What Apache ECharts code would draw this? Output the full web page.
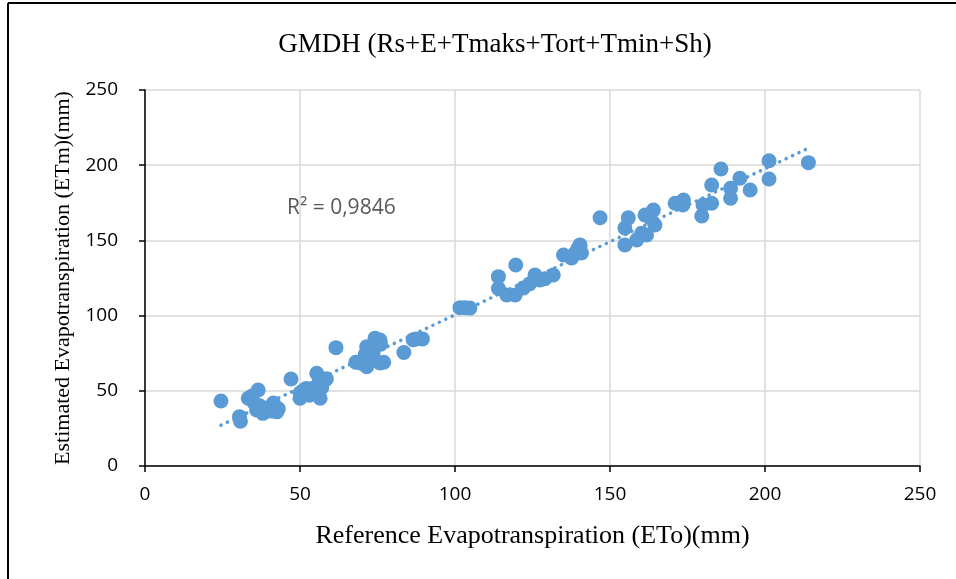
<!DOCTYPE html>
<html>
<head>
<meta charset="utf-8">
<title>GMDH</title>
<script src="https://cdn.jsdelivr.net/npm/echarts@6/dist/echarts.min.js"></script>
<style>
  html, body { margin: 0; padding: 0; background: #fff; }
  #chart { width: 956px; height: 579px; }
</style>
</head>
<body>
<div id="chart"></div>
<script>
// ETo (mm) reference values
var etoValues = [
  24.5, 30.5, 30.8, 33.3, 34.5, 36.5, 35, 36, 37, 38, 38.5, 39.7, 40.5, 41.4, 42.5, 43,
  47.1, 50, 50, 51, 52, 53, 54.3, 55.4, 56, 56.5, 57, 58, 58.5,
  61.6, 68, 69.4, 71.5, 71, 71.5, 72, 73.6, 74.2, 75.8, 75.8, 77, 76,
  83.5, 86.5, 87.5, 89.5,
  101.6, 103.2, 104.8, 114, 114, 116.7, 119.4, 119.6, 122, 124, 125.8, 127.4, 129, 131.7,
  135, 137.6, 138.5, 140.3, 140.8, 139.5, 140.3,
  146.8, 154.8, 154.8, 155.9, 158.6, 160.2, 161.3, 164, 164.5, 161.8, 163,
  171, 173.7, 173.5, 179.6, 180, 182.8, 182.8, 185.8, 188.9, 188.9, 191.9, 195.2,
  201.3, 201.3, 214
];
// ETm (mm) estimated by GMDH
var etmValues = [
  43.2, 32.8, 29.8, 45, 46.5, 50.5, 42.6, 37.2, 40, 35, 38, 38.5, 36.5, 41.9, 36, 38,
  57.8, 48.5, 45, 50, 51.6, 47, 49, 61.7, 55, 45, 52, 57, 58,
  78.7, 69, 68.5, 66, 74, 79.3, 72, 75, 85, 68.5, 83.8, 69, 81,
  75.5, 84, 84.5, 84.5,
  105.3, 105.3, 105, 125.9, 118, 113.7, 113.7, 133.6, 118.3, 121, 127, 123.7, 124.5, 127,
  140.3, 138.3, 141, 145.8, 141.6, 144, 147,
  165.1, 147, 158.2, 165, 150.3, 154.7, 166.9, 170.2, 160.2, 153.6, 165,
  174.7, 176.9, 173.5, 166.2, 173.5, 174.7, 186.8, 197.5, 184.6, 178, 191.3, 183.5,
  203, 190.8, 201.7
];
var r2Text = 'R² = 0,9846';

var points = [];
for (var i = 0; i < etoValues.length; i++) {
  points.push([etoValues[i], etmValues[i]]);
}

// linear trend line (least squares) over the data range
function trendLine(xs, ys) {
  var n = xs.length, sx = 0, sy = 0, sxx = 0, sxy = 0;
  for (var i = 0; i < n; i++) {
    sx += xs[i]; sy += ys[i]; sxx += xs[i] * xs[i]; sxy += xs[i] * ys[i];
  }
  var b = (n * sxy - sx * sy) / (n * sxx - sx * sx);
  var a = (sy - b * sx) / n;
  var x0 = Math.min.apply(null, xs), x1 = Math.max.apply(null, xs);
  return [[x0, a + b * x0], [x1, a + b * x1]];
}

var chart = echarts.init(document.getElementById('chart'));

var option = {
  backgroundColor: '#fff',
  animation: false,
  title: {
    text: 'GMDH (Rs+E+Tmaks+Tort+Tmin+Sh)',
    left: 490,
    textAlign: 'center',
    top: 26,
    textStyle: { fontFamily: 'Liberation Serif', fontWeight: 'normal', fontSize: 27, color: '#000' }
  },
  grid: { left: 145, right: 36, top: 90, bottom: 113 },
  xAxis: {
    type: 'value',
    min: 0, max: 250, interval: 50,
    name: 'Reference Evapotranspiration (ETo)(mm)',
    nameLocation: 'middle',
    nameGap: 57,
    nameTextStyle: { fontFamily: 'Liberation Serif', fontSize: 26, color: '#000' },
    axisLine: { show: true, lineStyle: { color: '#000', width: 1.5 } },
    axisTick: { show: true, length: 6, lineStyle: { color: '#000', width: 1.5 } },
    axisLabel: { margin: 19, fontFamily: 'Open Sans', fontSize: 19, color: '#000' },
    splitLine: { show: true, lineStyle: { color: '#d9d9d9', width: 1.5 } }
  },
  yAxis: {
    type: 'value',
    min: 0, max: 250, interval: 50,
    name: 'Estimated Evapotranspiration (ETm)(mm)',
    nameLocation: 'middle',
    nameGap: 70,
    nameTextStyle: { fontFamily: 'Liberation Serif', fontSize: 22, color: '#000' },
    axisLine: { show: true, lineStyle: { color: '#000', width: 1.5 } },
    axisTick: { show: true, length: 6, lineStyle: { color: '#000', width: 1.5 } },
    axisLabel: { margin: 27, fontFamily: 'Open Sans', fontSize: 19, color: '#000' },
    splitLine: { show: true, lineStyle: { color: '#d9d9d9', width: 1.5 } }
  },
  series: [
    {
      name: 'ETm',
      type: 'scatter',
      symbolSize: 15,
      itemStyle: { color: '#5b9bd5', opacity: 1 },
      data: points,
      z: 3
    },
    {
      name: 'Trend',
      type: 'line',
      data: trendLine(etoValues, etmValues),
      symbol: 'none',
      lineStyle: { color: '#5b9bd5', width: 3.5, type: [0.1, 7], cap: 'round' },
      z: 4
    }
  ],
  graphic: [
    { type: 'line', shape: { x1: 8, y1: 3, x2: 956, y2: 3 }, style: { stroke: '#000', lineWidth: 2 } },
    { type: 'line', shape: { x1: 8, y1: 3, x2: 8, y2: 579 }, style: { stroke: '#000', lineWidth: 2 } },
    {
      type: 'text', left: 287, top: 198,
      style: { text: r2Text, fontFamily: 'Open Sans', fontSize: 21, fill: '#595959' }
    }
  ]
};

chart.setOption(option);
</script>
</body>
</html>
